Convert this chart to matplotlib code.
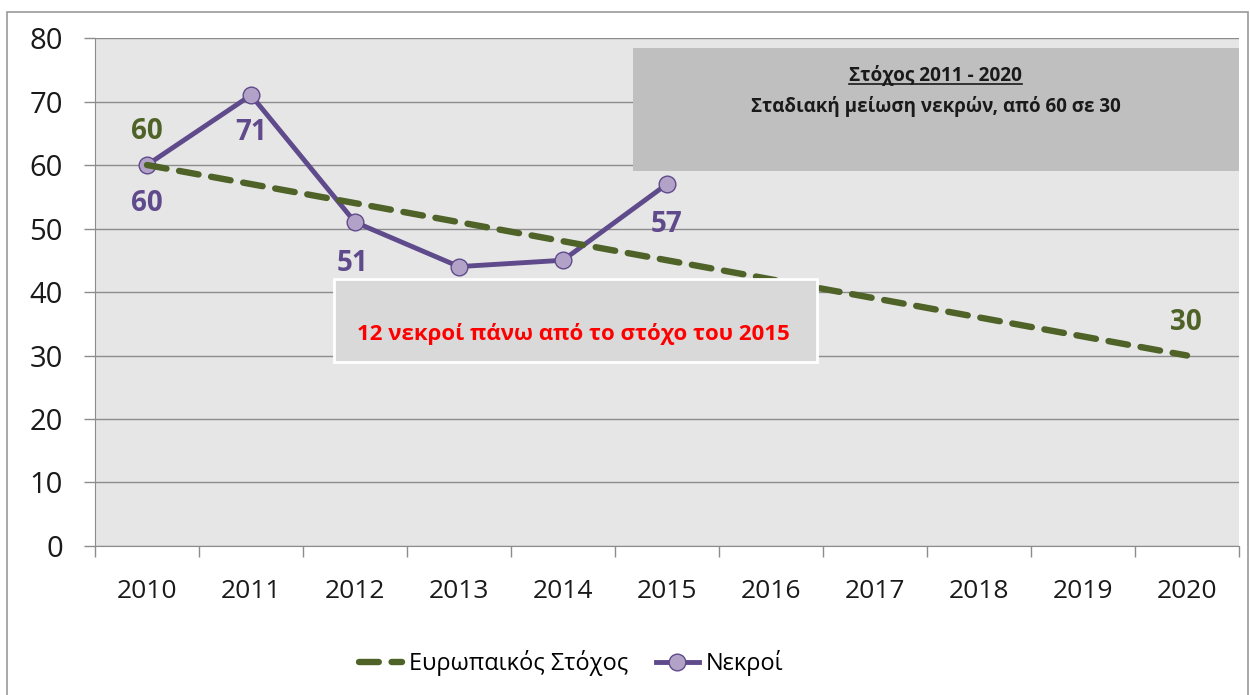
import matplotlib
matplotlib.use('Agg')
import matplotlib.pyplot as plt
from matplotlib.patches import Rectangle
from matplotlib.lines import Line2D

plt.rcParams['font.family'] = ['Open Sans', 'DejaVu Sans']

# data
years = ['2010', '2011', '2012', '2013', '2014', '2015', '2016', '2017', '2018', '2019', '2020']
target = [60, 57, 54, 51, 48, 45, 42, 39, 36, 33, 30]
deaths = [60, 71, 51, 44, 45, 57]
target_name = 'Ευρωπαικός Στόχος'
deaths_name = 'Νεκροί'

green = '#4f6228'
purple = '#5f4a8b'
marker_fill = '#b3a2c7'

fig = plt.figure(figsize=(12.5, 6.95), dpi=100)
ax = fig.add_axes([0.076, 0.2144, 0.9152, 0.7309])
ax.set_facecolor('#e6e6e6')

# outer chart border
fig.patches.append(Rectangle((7 / 1250, -0.1), 1241 / 1250, 1.1 - 12 / 695,
                             transform=fig.transFigure, fill=False,
                             edgecolor='#9a9a9a', linewidth=1.2))

x = list(range(len(years)))
ax.plot(x[:len(deaths)], deaths, color=purple, lw=3.5, marker='o', ms=12,
        mfc=marker_fill, mec=purple, mew=1, zorder=3, label=deaths_name)
ax.plot(x, target, color=green, lw=4.6, ls=(0, (3.1, 2.0)),
        dash_capstyle='round', zorder=4, label=target_name)

ax.set_xlim(-0.5, len(years) - 0.5)
ax.set_ylim(0, 80)
ax.set_yticks(range(0, 81, 10))
ax.set_xticks(x)
ax.set_xticklabels(years)
ax.set_xticks([i - 0.5 for i in range(len(years) + 1)], minor=True)
ax.tick_params(axis='x', which='major', length=0, pad=24, labelsize=19, labelcolor='#1a1a1a')
ax.tick_params(axis='x', which='minor', length=8, color='#8c8c8c', width=1)
ax.tick_params(axis='y', length=8, color='#8c8c8c', width=1, pad=15, labelsize=21,
               labelcolor='#1a1a1a')
ax.grid(axis='y', color='#8c8c8c', lw=1)
ax.set_axisbelow(True)
for s in ['top', 'right']:
    ax.spines[s].set_visible(False)
for s in ['left', 'bottom']:
    ax.spines[s].set_color('#8c8c8c')

# data labels
lab_kw = dict(textcoords='offset points', ha='center', va='center',
              fontsize=20, fontweight='bold')
ax.annotate(str(target[0]), (0, target[0]), xytext=(0, 24), color=green, **lab_kw)
ax.annotate(str(target[-1]), (10, target[-1]), xytext=(-1, 24), color=green, **lab_kw)
ax.annotate(str(deaths[0]), (0, deaths[0]), xytext=(0, -28), color=purple, **lab_kw)
ax.annotate(str(deaths[1]), (1, deaths[1]), xytext=(0, -27), color=purple, **lab_kw)
ax.annotate(str(deaths[2]), (2, deaths[2]), xytext=(-2, -30), color=purple, **lab_kw)
ax.annotate(str(deaths[5]), (5, deaths[5]), xytext=(0, -29), color=purple, **lab_kw)

# info boxes
ax.add_patch(Rectangle((0.470, 0.738), 0.530, 0.242, transform=ax.transAxes,
                       facecolor='#bfbfbf', edgecolor='none', zorder=5))
title = ax.text(0.735, 0.927, 'Στόχος 2011 - 2020', transform=ax.transAxes, ha='center',
                va='center', fontsize=13.7, fontweight='bold', color='#1a1a1a', zorder=6)
ax.text(0.735, 0.866, 'Σταδιακή μείωση νεκρών, από 60 σε 30', transform=ax.transAxes,
        ha='center', va='center', fontsize=13.5, fontweight='bold', color='#1a1a1a', zorder=6)

ax.add_patch(Rectangle((0.209, 0.362), 0.422, 0.164, transform=ax.transAxes,
                       facecolor='#d9d9d9', edgecolor='white', lw=2, zorder=5))
ax.text(0.418, 0.417, '12 νεκροί πάνω από το στόχο του 2015', transform=ax.transAxes,
        ha='center', va='center', fontsize=16, fontweight='bold', color='#ff0000', zorder=6)

h, l = ax.get_legend_handles_labels()
fig.legend(h[::-1], l[::-1], loc='center', bbox_to_anchor=(0.457, 0.046), ncol=2,
           frameon=False, fontsize=17, handlelength=1.8, columnspacing=1.2,
           handletextpad=0.3)

# underline the box title
fig.canvas.draw()
bb = title.get_window_extent().transformed(ax.transAxes.inverted())
ax.add_line(Line2D([bb.x0, bb.x1], [bb.y0 + 0.004, bb.y0 + 0.004], transform=ax.transAxes,
                   color='#1a1a1a', lw=1.2, zorder=6))

fig.savefig('out.png', dpi=100)
